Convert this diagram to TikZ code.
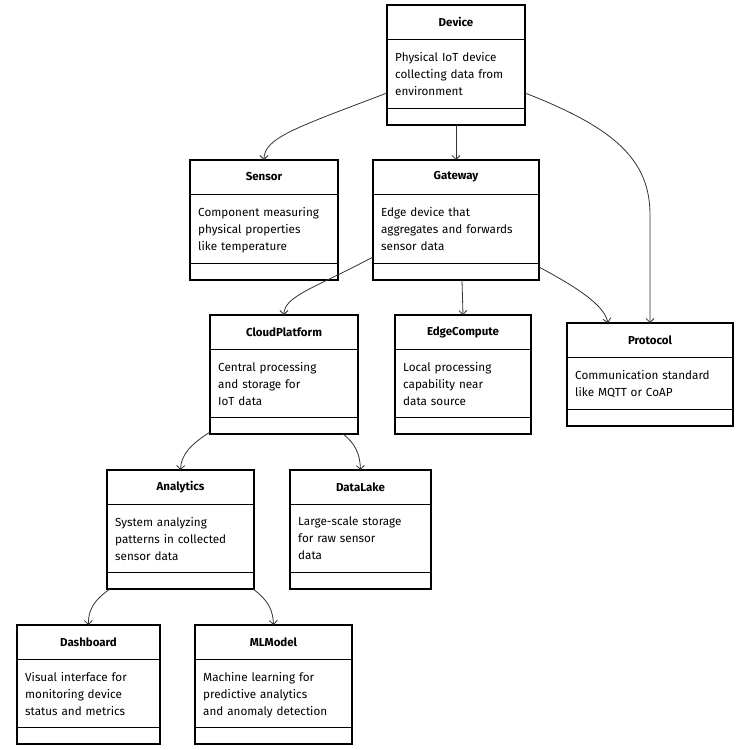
\documentclass[tikz,border=0pt]{standalone}
\usepackage{fontspec}
\setmainfont{Fira Sans}
\usetikzlibrary{arrows.meta,calc}
\tikzset{
  umlbox/.style={draw=black, line width=1.1pt, fill=white, anchor=north west, inner sep=0pt, outer sep=0pt},
  divider/.style={draw=black, line width=0.9pt},
  titletext/.style={font=\fontsize{11.5}{13}\selectfont\bfseries, text=black, inner sep=0pt},
  desctext/.style={font=\fontsize{11.7}{17}\selectfont, text=black, align=left, anchor=north west, inner sep=0pt, text width=170pt},
  conn/.style={draw=black!80, line width=0.8pt, -{Straight Barb[length=4pt,width=8pt]}}
}
\newcommand{\mkumlbox}[7]{%
  % #1 name, #2 x, #3 y, #4 w, #5 h, #6 title, #7 desc
  \node[umlbox, minimum width=#4pt, minimum height=#5pt] (#1) at (#2,#3) {};
  \draw[divider] ([yshift=-34pt]#1.north west) -- ([yshift=-34pt]#1.north east);
  \draw[divider] ([yshift=17pt]#1.south west) -- ([yshift=17pt]#1.south east);
  \node[titletext] (#1-t) at ([yshift=-17pt]#1.north) {#6};
  \node[desctext] (#1-d) at ([xshift=8pt,yshift=-47pt]#1.north west) {#7};
}
\begin{document}
\begin{tikzpicture}[x=1pt,y=-1pt]
\useasboundingbox[fill=white] (0,0) rectangle (750,750);

\mkumlbox{device}{387}{5}{138}{120}{Device}{Physical IoT device\\collecting data from\\environment}
\mkumlbox{sensor}{190}{160}{148}{120}{Sensor}{Component measuring\\physical properties\\like temperature}
\mkumlbox{gateway}{373}{160}{166}{120}{Gateway}{Edge device that\\aggregates and forwards\\sensor data}
\mkumlbox{cloud}{210}{315}{148}{119}{CloudPlatform}{Central processing\\and storage for\\IoT data}
\mkumlbox{edge}{395}{315}{136}{119}{EdgeCompute}{Local processing\\capability near\\data source}
\mkumlbox{protocol}{567}{323}{166}{103}{Protocol}{Communication standard\\like MQTT or CoAP}
\mkumlbox{analytics}{107}{470}{147}{119}{Analytics}{System analyzing\\patterns in collected\\sensor data}
\mkumlbox{datalake}{290}{470}{141}{119}{DataLake}{Large-scale storage\\for raw sensor\\data}
\mkumlbox{dashboard}{17}{625}{143}{119}{Dashboard}{Visual interface for\\monitoring device\\status and metrics}
\mkumlbox{mlmodel}{195}{625}{157}{119}{MLModel}{Machine learning for\\predictive analytics\\and anomaly detection}

% connectors
\draw[conn] ([yshift=-88pt]device.north west) .. controls (295,128) and (264,138) .. (sensor.north);
\draw[conn] (device.south) -- (device.south |- gateway.north);
\coordinate (pbend) at (650,215);
\draw[conn] ([yshift=-88pt]device.north east) .. controls (615,128) and (650,160) .. (pbend) -- (pbend |- protocol.north);
\draw[conn] ([yshift=-97pt]gateway.north west) .. controls (315,288) and (284,296) .. (cloud.north);
\draw[conn] ([xshift=6pt]gateway.south) -- (edge.north);
\draw[conn] ([yshift=-107pt]gateway.north east) .. controls (578,288) and (604,305) .. ([xshift=-42pt]protocol.north);
\draw[conn] ([yshift=-117pt]cloud.north west) .. controls (190,445) and (181,455) .. (analytics.north);
\draw[conn] ([xshift=-15pt]cloud.south east) .. controls (356,444) and (360,455) .. (datalake.north);
\draw[conn] ([xshift=3pt]analytics.south west) .. controls (94,600) and (88,610) .. (dashboard.north);
\draw[conn] ([xshift=-1pt]analytics.south east) .. controls (268,600) and (273,610) .. (mlmodel.north);
\end{tikzpicture}
\end{document}
